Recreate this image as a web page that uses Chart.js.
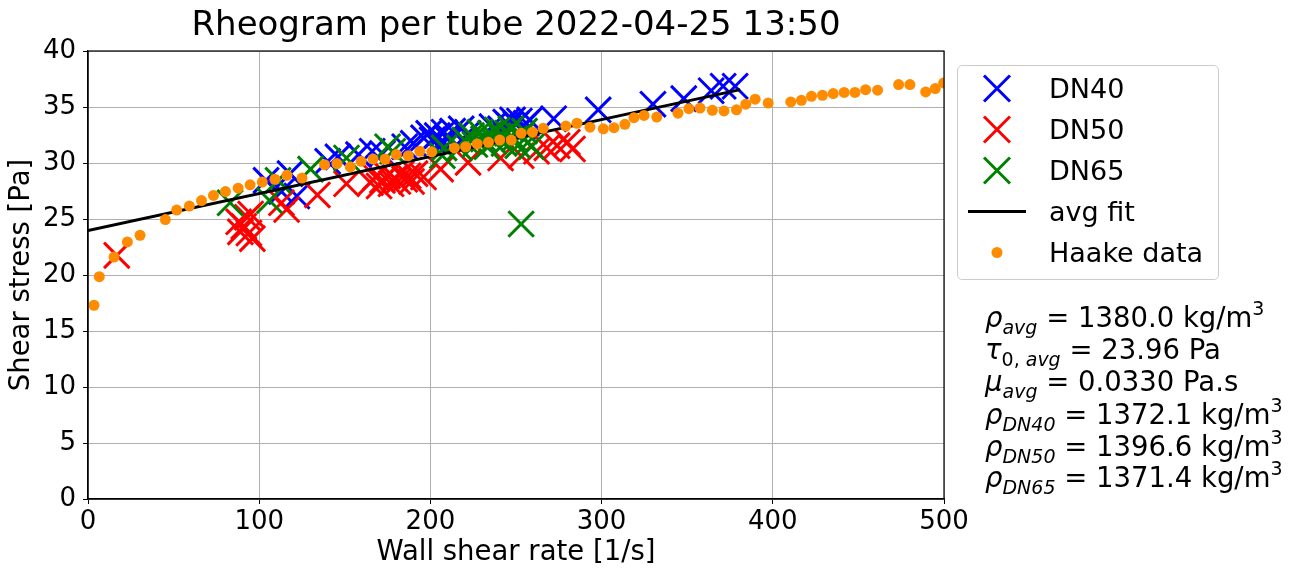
<!DOCTYPE html>
<html>
<head>
<meta charset="utf-8">
<script src="https://cdn.jsdelivr.net/npm/chart.js@4.4.1/dist/chart.umd.min.js"></script>
<style>
  html, body { margin: 0; padding: 0; background: #fff; }
  body { font-family: 'DejaVu Sans', sans-serif; color: #000; }
  #wrap { position: relative; width: 1304px; height: 572px; overflow: hidden; }
  #chart { position: absolute; left: 0; top: 0; }
  #title { position: absolute; left: 88px; width: 856px; top: 6px; line-height: 34px;
           font-size: 34px; text-align: center; white-space: nowrap; }
  #legend { position: absolute; left: 957px; top: 65px; width: 260px; height: 213px;
            border: 1px solid #cccccc; border-radius: 5px; background: rgba(255,255,255,0.8); }
  .row { position: absolute; left: 0; height: 41px; width: 100%; }
  .row svg { position: absolute; left: 0; top: 0; }
  .row span { position: absolute; left: 91px; top: 0; line-height: 41px; font-size: 27px; white-space: nowrap; }
  .note { position: absolute; left: 985px; font-size: 27.5px; line-height: 32px; white-space: nowrap; }
  .note i { font-style: italic; }
  .sub { font-size: 19px; font-style: italic; position: relative; top: 7px; line-height: 0; }
  .sup { font-size: 19px; position: relative; top: -12px; line-height: 0; }
</style>
</head>
<body>
<div id="wrap">
  <canvas id="chart" width="1304" height="572"></canvas>
  <div id="title">Rheogram per tube 2022-04-25 13:50</div>
  <div id="legend"></div>
  <div class="note" style="top:301px"><i>ρ</i><span class="sub">avg</span> = 1380.0 kg/m<span class="sup">3</span></div>
  <div class="note" style="top:333px"><i>τ</i><span class="sub" style="font-style:normal">0, <i>avg</i></span> = 23.96 Pa</div>
  <div class="note" style="top:365px"><i>μ</i><span class="sub">avg</span> = 0.0330 Pa.s</div>
  <div class="note" style="top:398px"><i>ρ</i><span class="sub">DN40</span> = 1372.1 kg/m<span class="sup">3</span></div>
  <div class="note" style="top:430px"><i>ρ</i><span class="sub">DN50</span> = 1396.6 kg/m<span class="sup">3</span></div>
  <div class="note" style="top:461px"><i>ρ</i><span class="sub">DN65</span> = 1371.4 kg/m<span class="sup">3</span></div>
</div>
<script>
// axis ticks
const rateTicks = [0, 100, 200, 300, 400, 500];
const stressTicks = [0, 5, 10, 15, 20, 25, 30, 35, 40];

// DN40 tube
const dn40Rate = [104, 113, 118, 122, 140, 146, 158, 166, 172, 185, 190, 196, 199, 201, 204, 206, 208, 210, 213,
  218, 222, 236, 241, 244, 246, 248, 250, 252, 254, 256, 258, 272, 298, 330, 348, 364, 371, 378];
const dn40Stress = [28.45, 27.45, 29.05, 27.05, 30.15, 30.55, 30.75, 31.05, 30.85, 31.45, 31.75, 32.25, 32.65, 32.05, 32.45, 31.85, 32.75, 32.15, 32.85,
  33.05, 32.65, 33.25, 33.05, 33.65, 33.35, 33.85, 33.45, 33.75, 33.25, 33.55, 33.85, 33.95, 34.75, 35.25, 35.75, 36.45, 36.85, 36.85];

// DN50 tube
const dn50Rate = [16.8, 88, 89, 91, 93, 94, 96, 95, 113, 116, 134, 151, 165, 168, 170, 172, 175, 177,
  179, 181, 183, 185, 187, 189, 191, 196, 206, 222, 241, 253, 262, 268, 274, 280, 283];
const dn50Stress = [21.75, 24.75, 23.85, 24.35, 25.15, 23.75, 23.25, 25.45, 26.45, 25.85, 27.15, 28.15, 28.25, 28.75, 27.95, 28.45, 28.85, 28.15,
  28.65, 28.35, 29.05, 28.55, 28.85, 28.35, 29.05, 28.75, 29.45, 30.05, 30.45, 30.65, 31.05, 31.35, 31.55, 31.85, 31.25];

// DN65 tube
const dn65Rate = [83, 106, 111, 130, 151, 175, 178, 207, 208, 217, 220, 224, 226, 229, 231,
  233, 235, 237, 239, 241, 243, 245, 247, 249, 251, 253, 255, 257, 259, 253];
const dn65Stress = [26.45, 26.65, 28.45, 29.45, 30.45, 31.45, 31.05, 30.65, 31.35, 31.35, 32.05, 32.45, 31.65, 32.75, 32.15,
  31.45, 32.65, 31.95, 32.95, 32.35, 31.75, 32.65, 33.05, 32.15, 31.55, 32.45, 32.85, 31.85, 31.45, 24.55];

// average Bingham fit, end points
const fitRate = [0, 381];
const fitStress = [23.96, 36.55];

// Haake rheometer
const haakeRate = [3.5, 6.6, 15.2, 23, 30.4, 45.2, 51.8, 59.2, 66.3, 73.3,
  80.3, 87.7, 94.7, 101.8, 109.2, 116.2, 125, 138.2, 145.4, 153.2,
  159.5, 166.5, 173.5, 180.1, 187.1, 193.8, 200.8, 214, 220.6, 227.3,
  233.9, 240.5, 247.2, 253, 259.6, 265.9, 279.1, 285.6, 293.2, 301,
  307.2, 313.6, 318.9, 324.8, 332.2, 344.6, 351, 357.5, 364.7, 371.5,
  378.8, 384.2, 389.7, 397.3, 410.5, 416.7, 422.6, 429, 435.3, 441.7,
  448, 454.2, 461.2, 473.5, 480.1, 489.3, 494.9, 499.8];
const haakeStress = [17.3, 19.85, 21.6, 22.95, 23.55, 24.95, 25.8, 26.15, 26.65, 27.1,
  27.45, 27.75, 28.05, 28.3, 28.55, 28.9, 28.65, 29.85, 29.95, 29.65,
  30.15, 30.35, 30.35, 30.75, 30.65, 31.05, 31.0, 31.35, 31.45, 31.7,
  31.85, 32.05, 32.05, 32.65, 32.75, 33.1, 33.3, 33.55, 33.2, 33.05,
  33.15, 33.45, 34.05, 34.25, 34.1, 34.45, 34.85, 34.9, 34.7, 34.65,
  34.75, 35.25, 35.7, 35.35, 35.45, 35.6, 35.95, 36.05, 36.2, 36.3,
  36.3, 36.55, 36.5, 37.0, 37.0, 36.35, 36.65, 37.15];

const colors = { dn40: '#0000ff', dn50: '#ff0000', dn65: '#008000', fit: '#000000', haake: '#ff8c00', grid: '#b0b0b0' };

function toPoints(xs, ys) {
  return xs.map((x, i) => ({ x: x, y: ys[i] }));
}

function crossSet(label, xs, ys, color, order) {
  return {
    label: label, data: toPoints(xs, ys), order: order, clip: 0,
    pointStyle: 'crossRot', pointRadius: 18, pointBorderWidth: 3,
    pointBorderColor: color, pointBackgroundColor: color, borderColor: color, backgroundColor: color
  };
}

// full box round the axes, like matplotlib spines
const frame = {
  id: 'frame',
  afterDraw(chart) {
    const { ctx, chartArea: a } = chart;
    ctx.save();
    ctx.strokeStyle = '#000';
    ctx.lineWidth = 1.2;
    ctx.strokeRect(a.left, a.top, a.right - a.left, a.bottom - a.top);
    ctx.restore();
  }
};

Chart.defaults.font.family = "'DejaVu Sans', sans-serif";
Chart.defaults.color = '#000';

new Chart(document.getElementById('chart'), {
  type: 'scatter',
  data: {
    datasets: [
      { label: 'Haake data', data: toPoints(haakeRate, haakeStress), order: 0, clip: 0,
        pointStyle: 'circle', pointRadius: 5.5, pointBorderWidth: 0, pointBackgroundColor: colors.haake, backgroundColor: colors.haake },
      { label: 'avg fit', type: 'line', data: toPoints(fitRate, fitStress), order: 1, clip: 0,
        showLine: true, borderColor: colors.fit, borderWidth: 3, pointRadius: 0, fill: false },
      crossSet('DN65', dn65Rate, dn65Stress, colors.dn65, 2),
      crossSet('DN50', dn50Rate, dn50Stress, colors.dn50, 3),
      crossSet('DN40', dn40Rate, dn40Stress, colors.dn40, 4)
    ]
  },
  options: {
    responsive: false,
    animation: false,
    events: [],
    layout: { padding: { top: 51, right: 360, left: 0, bottom: 0 } },
    plugins: { legend: { display: false }, tooltip: { enabled: false } },
    scales: {
      x: {
        type: 'linear', min: 0, max: 500,
        afterBuildTicks: s => { s.ticks = rateTicks.map(v => ({ value: v })); },
        afterFit: s => { s.height = 73; },
        grid: { color: colors.grid, lineWidth: 1, tickColor: '#000', tickLength: 5 },
        border: { color: '#000', width: 1.2 },
        ticks: { font: { size: 26 }, padding: 3, maxRotation: 0 },
        title: { display: true, text: 'Wall shear rate [1/s]', font: { size: 27.5 }, padding: { top: 0, bottom: 3 } }
      },
      y: {
        type: 'linear', min: 0, max: 40,
        afterBuildTicks: s => { s.ticks = stressTicks.map(v => ({ value: v })); },
        afterFit: s => { s.width = 88; },
        grid: { color: colors.grid, lineWidth: 1, tickColor: '#000', tickLength: 5 },
        border: { color: '#000', width: 1.2 },
        ticks: { font: { size: 26 }, padding: 7 },
        title: { display: true, text: 'Shear stress [Pa]', font: { size: 27.5 }, padding: { top: 5, bottom: 0 } }
      }
    }
  },
  plugins: [frame]
});

// legend drawn as html beside the axes
const legendItems = [
  { label: 'DN40', kind: 'cross', color: colors.dn40 },
  { label: 'DN50', kind: 'cross', color: colors.dn50 },
  { label: 'DN65', kind: 'cross', color: colors.dn65 },
  { label: 'avg fit', kind: 'line', color: colors.fit },
  { label: 'Haake data', kind: 'dot', color: colors.haake }
];
const legendBox = document.getElementById('legend');
legendItems.forEach((item, i) => {
  const cx = 39, cy = 20.5;
  let mark = '';
  if (item.kind === 'cross') {
    mark = `<path d="M${cx - 13} ${cy - 13} L${cx + 13} ${cy + 13} M${cx + 13} ${cy - 13} L${cx - 13} ${cy + 13}" stroke="${item.color}" stroke-width="3"/>`;
  } else if (item.kind === 'line') {
    mark = `<line x1="${cx - 29}" y1="${cy}" x2="${cx + 29}" y2="${cy}" stroke="${item.color}" stroke-width="3"/>`;
  } else {
    mark = `<circle cx="${cx}" cy="${cy}" r="5.5" fill="${item.color}"/>`;
  }
  const row = document.createElement('div');
  row.className = 'row';
  row.style.top = (1.5 + i * 41.2) + 'px';
  row.innerHTML = `<svg width="90" height="41">${mark}</svg><span>${item.label}</span>`;
  legendBox.appendChild(row);
});
</script>
</body>
</html>
